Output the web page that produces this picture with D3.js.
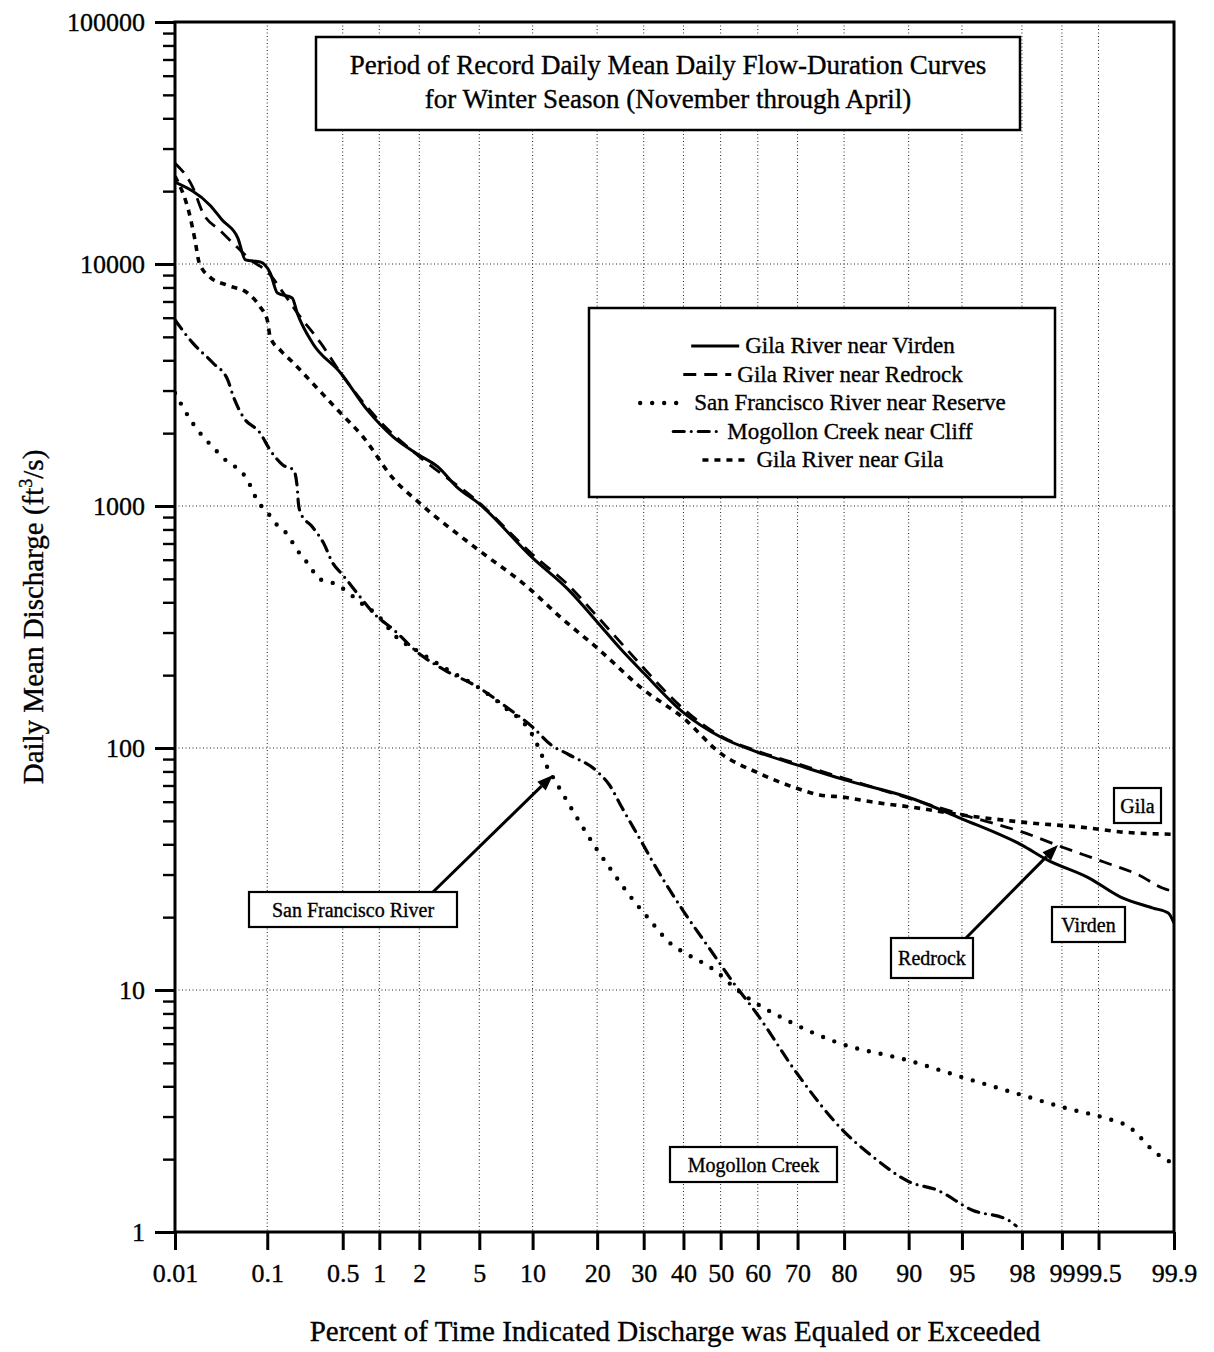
<!DOCTYPE html>
<html><head><meta charset="utf-8">
<script src="https://cdn.jsdelivr.net/npm/d3@7"></script>
<style>
body{margin:0;background:#fff}
svg{display:block}
text{font-family:"Liberation Serif","Times New Roman",serif;fill:#000;stroke:#000;stroke-width:0.35px}
</style>
</head><body>
<svg id="chart" width="1214" height="1352"></svg>
<script>
// ---------- data (percent of time exceeded, discharge ft3/s) ----------
const xTicks = [0.01,0.1,0.5,1,2,5,10,20,30,40,50,60,70,80,90,95,98,99,99.5,99.9];
const xTickLabels = ["0.01","0.1","0.5","1","2","5","10","20","30","40","50","60","70","80","90","95","98","99","99.5","99.9"];
const yTicks = [1,10,100,1000,10000,100000];
const yTickLabels = ["1","10","100","1000","10000","100000"];

const virdenP = [0.01,0.025,0.034,0.05,0.06,0.085,0.107,0.126,0.175,0.195,0.27,0.48,0.8,1.28,2,2.7,3.6,5,10,15,20,25,30,40,50,60,70,80,90.3,95,98,98.7,99.4,99.68,99.84,99.886,99.9];
const virdenQ = [21800,17500,15200,12800,10400,10200,9180,7590,7240,6280,4720,3545,2495,1930,1620,1450,1200,1020,610,450,332,254,204,140,111,96,85,74,62,51,39.7,34.5,29,24.2,21.8,20.8,18.9];

const redrockP = [0.01,0.016,0.021,0.032,0.049,0.07,0.1,0.15,0.2,0.32,0.5,1,2,5,10,15,20,25,30,40,50,60,70,80,90,95.1,98,99,99.55,99.78,99.87,99.9];
const redrockQ = [26100,20800,16200,13800,11750,10300,9300,7400,6200,4720,3450,2250,1600,1030,630,470,350,270,214,145,112,97,86,75,62,52.9,45,39,33.8,29.9,26.4,25.5];

const sfP = [0.01,0.016,0.029,0.039,0.056,0.067,0.079,0.1,0.12,0.15,0.175,0.21,0.26,0.3,0.41,0.5,0.7,1,1.3,2,3,5,7,10,11.9,13.5,20,23.1,26.3,30.9,37.2,39.8,49.2,53.5,68.8,78.4,90.1,95.2,98,99.07,99.56,99.73,99.85,99.9];
const sfQ = [2930,2200,1700,1520,1370,1220,1055,944,850,782,710,628,560,504,481,456,400,348,294,249,214,177,148,113,83,69,38,30.7,25.2,20,15.3,14.4,11.8,10.3,7.3,6.1,5.1,4.33,3.68,3.25,2.96,2.72,2.12,1.91];

const mogP = [0.01,0.016,0.027,0.039,0.045,0.057,0.085,0.107,0.143,0.18,0.195,0.2,0.21,0.27,0.34,0.41,0.5,0.7,0.9,1.3,2,3,5,7,10,12.4,15,20,22.5,25,30,31.9,39.8,47.3,53.5,59.7,69.8,79.7,85.3,90.1,93,95.7,97.5,97.8];
const mogQ = [5870,4720,3900,3320,2820,2330,2000,1700,1475,1410,1200,1030,935,819,703,581,519,421,361,307,245,210,177,150,122,103,94,80,70,57,39.5,34.5,21.4,14.6,10.7,8.0,4.54,2.64,2.02,1.61,1.49,1.23,1.12,1.06];

const gilaP = [0.01,0.015,0.017,0.019,0.025,0.038,0.063,0.085,0.1,0.107,0.134,0.18,0.27,0.45,0.74,1.28,2,5,9.4,13.7,20,30,40,50,60,70,75,80,85,90.3,95,98,99.4,99.68,99.9];
const gilaQ = [23000,15600,12570,10100,8830,8190,7590,6640,5870,4990,4410,3900,3220,2500,1930,1300,1030,654,463,348,259,174,133,95,79,68,64,62.6,59.8,57,52.9,49.4,46.7,45,44];

const seriesNames = ["Gila River near Virden","Gila River near Redrock","San Francisco River near Reserve","Mogollon Creek near Cliff","Gila River near Gila"];

const titleLines = ["Period of Record Daily Mean Daily Flow-Duration Curves","for Winter Season (November through April)"];
const xAxisTitle = "Percent of Time Indicated Discharge was Equaled or Exceeded";

// ---------- helpers ----------
function probit(p){
  const a=[-3.969683028665376e+01,2.209460984245205e+02,-2.759285104469687e+02,1.383577518672690e+02,-3.066479806614716e+01,2.506628277459239e+00];
  const b=[-5.447609879822406e+01,1.615858368580409e+02,-1.556989798598866e+02,6.680131188771972e+01,-1.328068155288572e+01];
  const c=[-7.784894002430293e-03,-3.223964580411365e-01,-2.400758277161838e+00,-2.549732539343734e+00,4.374664141464968e+00,2.938163982698783e+00];
  const d=[7.784695709041462e-03,3.224671290700398e-01,2.445134137142996e+00,3.754408661907416e+00];
  const pl=0.02425, ph=1-pl; let q,r;
  if(p<pl){q=Math.sqrt(-2*Math.log(p));return (((((c[0]*q+c[1])*q+c[2])*q+c[3])*q+c[4])*q+c[5])/((((d[0]*q+d[1])*q+d[2])*q+d[3])*q+1);}
  if(p<=ph){q=p-0.5;r=q*q;return (((((a[0]*r+a[1])*r+a[2])*r+a[3])*r+a[4])*r+a[5])*q/(((((b[0]*r+b[1])*r+b[2])*r+b[3])*r+b[4])*r+1);}
  q=Math.sqrt(-2*Math.log(1-p));return -(((((c[0]*q+c[1])*q+c[2])*q+c[3])*q+c[4])*q+c[5])/((((d[0]*q+d[1])*q+d[2])*q+d[3])*q+1);
}

const L=175, R=1174, T=22, B=1232;
const zScale = d3.scaleLinear().domain([probit(0.0001), probit(0.999)]).range([L, R]);
const x = pct => zScale(probit(pct/100));
const y = d3.scaleLog().domain([1,100000]).range([B, T]);

const svg = d3.select("#chart");

// ---------- grid ----------
const grid = svg.append("g").attr("stroke","#222").attr("stroke-width",1).attr("stroke-dasharray","1,2.5");
xTicks.slice(1,-1).forEach(p=>{
  grid.append("line").attr("x1",x(p)).attr("x2",x(p)).attr("y1",T).attr("y2",B);
});
[10,100,1000,10000].forEach(v=>{
  grid.append("line").attr("x1",L).attr("x2",R).attr("y1",y(v)).attr("y2",y(v));
});

// ---------- series ----------
const series = [
  {name:seriesNames[0], p:virdenP, q:virdenQ, dash:null, w:3, cap:"butt"},
  {name:seriesNames[1], p:redrockP, q:redrockQ, dash:"13,8", w:2.8, cap:"butt"},
  {name:seriesNames[2], p:sfP, q:sfQ, dash:"0,12", w:4.4, cap:"round"},
  {name:seriesNames[3], p:mogP, q:mogQ, dash:"11,7,0,7", w:3.2, cap:"round"},
  {name:seriesNames[4], p:gilaP, q:gilaQ, dash:"6,6", w:3.6, cap:"butt"}
];

svg.append("defs").append("clipPath").attr("id","clip")
  .append("rect").attr("x",L).attr("y",T).attr("width",R-L).attr("height",B-T);

const line = d3.line().x(d=>x(d[0])).y(d=>y(d[1])).curve(d3.curveMonotoneX);
const gLines = svg.append("g").attr("clip-path","url(#clip)");
[...series].reverse().forEach(s=>{
  const data = s.p.map((p,i)=>[p,s.q[i]]);
  gLines.append("path").datum(data).attr("d",line)
    .attr("fill","none").attr("stroke","#000").attr("stroke-width",s.w)
    .attr("stroke-linecap",s.cap).attr("stroke-linejoin","round")
    .attr("stroke-dasharray",s.dash);
});

// ---------- axes & frame ----------
svg.append("rect").attr("x",L).attr("y",T).attr("width",R-L).attr("height",B-T)
  .attr("fill","none").attr("stroke","#000").attr("stroke-width",3);

const yAxis = d3.axisLeft(y).tickValues(yTicks).tickFormat((d,i)=>yTickLabels[i]).tickSize(20).tickPadding(10);
const gy = svg.append("g").attr("transform",`translate(${L},0)`).call(yAxis);
gy.select(".domain").remove();
gy.selectAll(".tick line").attr("stroke-width",3);
gy.selectAll(".tick text").attr("font-size",26).attr("font-family","Liberation Serif, serif").attr("dy","0.34em");

const minorVals = [];
for (let e=0;e<5;e++) for (let k=2;k<=9;k++) minorVals.push(k*Math.pow(10,e));
const gyMinor = svg.append("g").attr("transform",`translate(${L},0)`)
  .call(d3.axisLeft(y).tickValues(minorVals).tickSize(12).tickFormat(""));
gyMinor.select(".domain").remove();
gyMinor.selectAll(".tick line").attr("stroke-width",2.4);

const xAxis = d3.axisBottom(zScale).tickValues(xTicks.map(p=>probit(p/100)))
  .tickFormat((d,i)=>xTickLabels[i]).tickSize(18).tickPadding(14);
const gx = svg.append("g").attr("transform",`translate(0,${B})`).call(xAxis);
gx.select(".domain").remove();
gx.selectAll(".tick line").attr("stroke-width",3);
gx.selectAll(".tick text").attr("font-size",26).attr("font-family","Liberation Serif, serif");

// axis titles
svg.append("text").attr("x",675).attr("y",1341).attr("text-anchor","middle")
  .attr("font-size",29).text(xAxisTitle);
const yt = svg.append("text").attr("transform","translate(43,617) rotate(-90)")
  .attr("text-anchor","middle").attr("font-size",29);
yt.append("tspan").text("Daily Mean Discharge (ft");
yt.append("tspan").attr("font-size",18).attr("dy",-11).text("3");
yt.append("tspan").attr("dy",11).text("/s)");

// ---------- title box ----------
svg.append("rect").attr("x",316).attr("y",37).attr("width",704).attr("height",93)
  .attr("fill","#fff").attr("stroke","#000").attr("stroke-width",2.5);
titleLines.forEach((t,i)=>{
  svg.append("text").attr("x",668).attr("y",74+i*34).attr("text-anchor","middle")
    .attr("font-size",27).text(t);
});

// ---------- legend ----------
const lg = svg.append("g");
lg.append("rect").attr("x",589).attr("y",308).attr("width",466).attr("height",189)
  .attr("fill","#fff").attr("stroke","#000").attr("stroke-width",2.5);
const legCx = 822, sampleW = 50, gap = 6;
series.forEach((s,i)=>{
  const by = 353 + i*28.5;
  const t = lg.append("text").attr("y",by).attr("font-size",23).text(s.name);
  const tw = t.node().getComputedTextLength();
  const x0 = legCx - (sampleW+gap+tw)/2;
  t.attr("x",x0+sampleW+gap);
  lg.append("line").attr("x1",x0+2).attr("x2",x0+sampleW).attr("y1",by-7).attr("y2",by-7)
    .attr("stroke","#000").attr("stroke-width",s.w).attr("stroke-linecap",s.cap)
    .attr("stroke-dasharray",s.dash);
});

// ---------- annotations ----------
const notes = [
  {t:"San Francisco River", x0:249, y0:892, x1:457, y1:927},
  {t:"Mogollon Creek", x0:670, y0:1147, x1:837, y1:1182},
  {t:"Redrock", x0:891, y0:938, x1:973, y1:978},
  {t:"Virden", x0:1052, y0:907, x1:1125, y1:942},
  {t:"Gila", x0:1114, y0:788, x1:1161, y1:823}
];
const arrows = [
  {from:[433,892], to:[553,775]},
  {from:[966,938], to:[1058,845]}
];
arrows.forEach(a=>{
  const [x1,y1]=a.from,[x2,y2]=a.to;
  const ang=Math.atan2(y2-y1,x2-x1), len=16, hw=6;
  const bx=x2-len*Math.cos(ang), by=y2-len*Math.sin(ang);
  svg.append("line").attr("x1",x1).attr("y1",y1).attr("x2",bx).attr("y2",by)
    .attr("stroke","#000").attr("stroke-width",3);
  const px=-Math.sin(ang)*hw, py=Math.cos(ang)*hw;
  svg.append("path").attr("d",`M${x2},${y2}L${bx+px},${by+py}L${bx-px},${by-py}Z`).attr("fill","#000");
});
notes.forEach(n=>{
  svg.append("rect").attr("x",n.x0).attr("y",n.y0).attr("width",n.x1-n.x0).attr("height",n.y1-n.y0)
    .attr("fill","#fff").attr("stroke","#000").attr("stroke-width",2.2);
  svg.append("text").attr("x",(n.x0+n.x1)/2).attr("y",(n.y0+n.y1)/2+7)
    .attr("text-anchor","middle").attr("font-size",20).text(n.t);
});
</script>
</body></html>
